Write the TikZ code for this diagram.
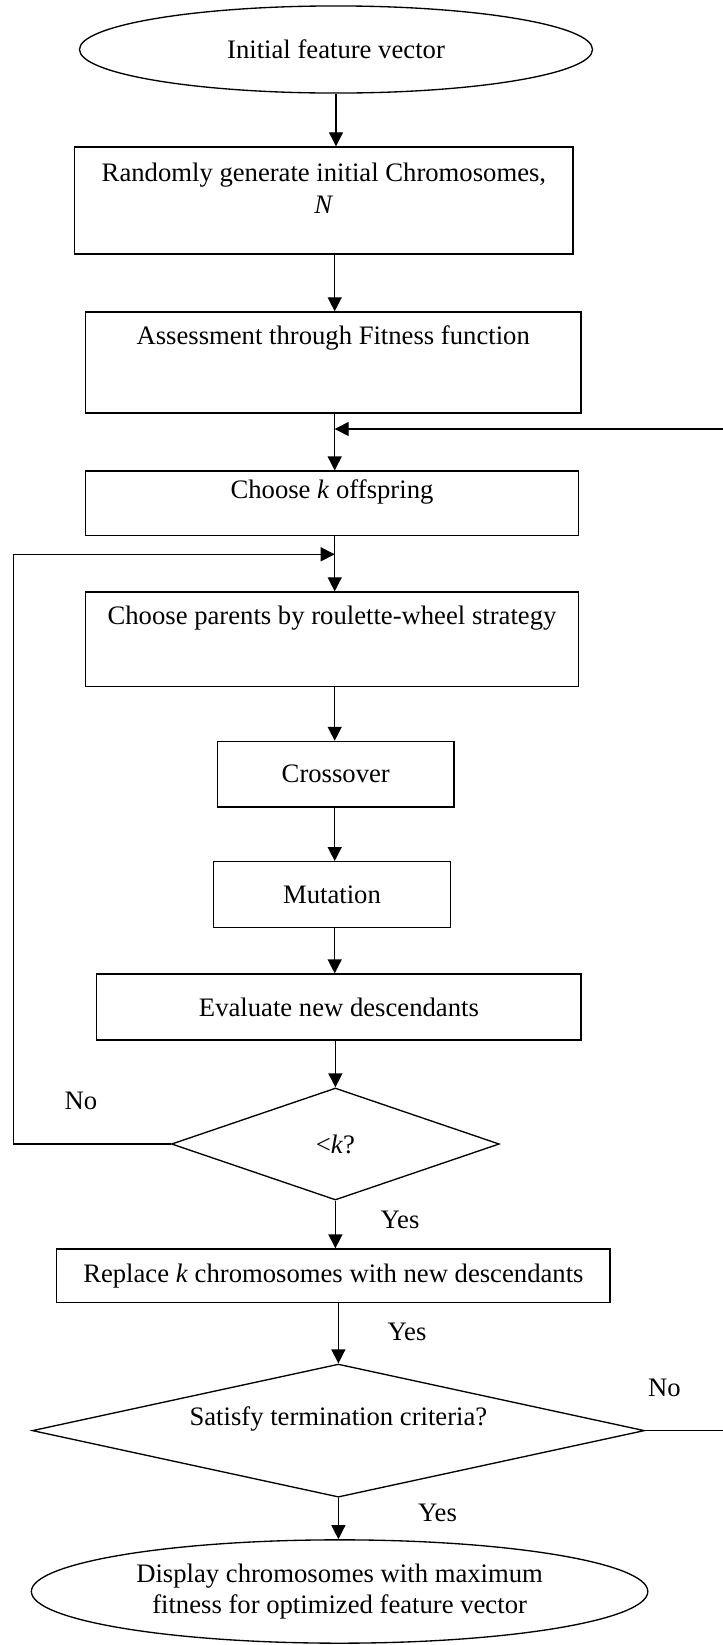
\documentclass[tikz,border=0pt]{standalone}
\usepackage{fontspec}
\setmainfont{Liberation Serif}
\usetikzlibrary{arrows.meta,shapes.geometric}

\begin{document}
\begin{tikzpicture}[x=0.45pt,y=-0.45pt,>={Triangle[length=6.3pt,width=6.3pt]},line width=0.6pt,
  every node/.style={align=center,font=\fontsize{12}{14}\selectfont},
  process/.style={draw,rectangle,inner sep=0pt},
  endpoint/.style={draw,ellipse,inner sep=0pt},
  decision/.style={draw,diamond,inner sep=0pt}]
\useasboundingbox (0,0) rectangle (723,1645);
\node[endpoint,minimum width=230.9pt,minimum height=39.2pt] (init) at (336,49.5) {Initial feature vector};
\node[process,minimum width=224.2pt,text height=29.75pt,text depth=18.45pt] (rand) at (323.9,200.5) {Randomly generate initial Chromosomes,\\\textit{N}};
\node[process,minimum width=223pt,text height=14.85pt,text depth=30.65pt] (assess) at (333.2,362.5) {Assessment through Fitness function};
\node[process,minimum width=222pt,text height=12.2pt,text depth=16.9pt] (choosek) at (332,503.4) {Choose \textit{k} offspring};
\node[process,minimum width=222pt,text height=14.85pt,text depth=27.65pt] (parents) at (332,639.2) {Choose parents by roulette-wheel strategy};
\node[process,minimum width=106.4pt,minimum height=29.5pt] (cross) at (335.8,774.2) {Crossover};
\node[process,minimum width=106.6pt,minimum height=29.6pt] (mut) at (332,894.6) {Mutation};
\node[process,minimum width=217.9pt,minimum height=29.7pt] (eval) at (338.9,1007) {Evaluate new descendants};
\node[decision,aspect=2.9,minimum width=147.5pt,minimum height=50.4pt] (lessk) at (335.4,1144) {<\textit{k}?};
\node[process,minimum width=249pt,minimum height=24.2pt] (replace) at (333.4,1275.9) {Replace \textit{k} chromosomes with new descendants};
\node[decision,aspect=4.6,minimum width=275.5pt,minimum height=59.9pt,text height=8pt,text depth=12.6pt] (crit) at (338.4,1430.6) {Satisfy termination criteria?};
\node[endpoint,minimum width=277.4pt,minimum height=46.5pt] (final) at (339.6,1591.5) {Display chromosomes with maximum\\fitness for optimized feature vector};
\node (no1) at (81,1101) {No};
\node (yes1) at (400,1220) {Yes};
\node (yes2) at (407,1331.6) {Yes};
\node (no2) at (664.5,1387.8) {No};
\node (yes3) at (437.5,1513) {Yes};
\coordinate (join1) at (334.7,429);
\coordinate (join2) at (334.7,554.3);
\coordinate (leftc) at (13.8,0);
\coordinate (rightc) at (727,0);
\draw[->] (init.south) -- (init.south |- rand.north);
\draw[->] (rand.south -| join1) -- (assess.north -| join1);
\draw[->] (assess.south -| join1) -- (choosek.north -| join1);
\draw[->] (choosek.south -| join2) -- (parents.north -| join2);
\draw[->] (parents.south -| join2) -- (cross.north -| join2);
\draw[->] (cross.south -| join2) -- (mut.north -| join2);
\draw[->] (mut.south -| join2) -- (eval.north -| join2);
\draw[->] (eval.south -| lessk) -- (lessk.north);
\draw[->] (lessk.south) -- (replace.north -| lessk);
\draw[->] (replace.south -| crit) -- (crit.north);
\draw[->] (crit.south) -- (final.north -| crit);
\draw[->] (lessk.west) -| (leftc |- join2) -- (join2);
\draw[->] (crit.east) -- (rightc |- crit.east) |- (join1);
\end{tikzpicture}
\end{document}
